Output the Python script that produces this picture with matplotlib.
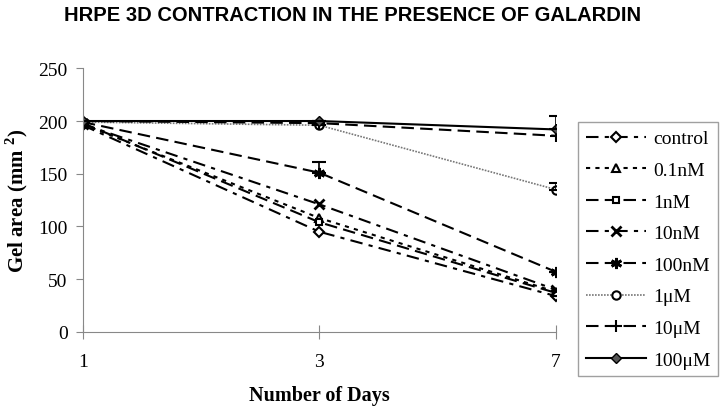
import matplotlib
matplotlib.use('Agg')
import matplotlib.pyplot as plt

days = ['1', '3', '7']
labels = ['control', '0.1nM', '1nM', '10nM', '100nM', '1\u03bcM', '10\u03bcM', '100\u03bcM']

control = [196, 95, 34]
nm01 = [197, 108, 38]
nm1 = [198, 104, 37]
nm10 = [197, 121, 40]
nm100 = [199, 151, 57]
um1 = [199, 196, 135]
um10 = [200, 198, 186]
um100 = [200, 200, 192]
series = [control, nm01, nm1, nm10, nm100, um1, um10, um100]

# upward error bars only
err_up = {'100nM': [0, 10, 0], '1\u03bcM': [0, 0, 6], '100\u03bcM': [0, 0, 13]}

styles = [
    dict(ls=(0, (6, 3, 2, 3)), marker='D', mfc='white', ms=5, mew=1.5, color='black', lw=1.5),
    dict(ls=(0, (2, 2.5)), marker='^', mfc='white', ms=6, mew=1.5, color='black', lw=1.5),
    dict(ls=(0, (6, 3)), marker='s', mfc='white', ms=5, mew=1.5, color='black', lw=1.5),
    dict(ls=(0, (6, 3, 2, 3)), marker='x', ms=7, mew=2, color='black', lw=1.5),
    dict(ls=(0, (6, 3)), marker=(6, 2, 0), ms=8, mew=2, color='black', lw=1.5),
    dict(ls=(0, (1, 0.8)), marker='o', mfc='white', mec='black', ms=6, mew=1.5, color='#777777', lw=1.2),
    dict(ls=(0, (6, 3)), marker='+', ms=9, mew=1.5, color='black', lw=1.5),
    dict(ls='-', marker='D', ms=5, mfc='#555555', color='black', lw=1.5),
]

fig = plt.figure(figsize=(7.2, 4.1), dpi=100)
ax = fig.add_axes([0.115, 0.188, 0.657, 0.643])
x = list(range(len(days)))

for name, vals, st in zip(labels, series, styles):
    ax.plot(x, vals, label=name, **st)
    if name in err_up:
        ax.errorbar(x, vals, yerr=[[0, 0, 0], err_up[name]], fmt='none',
                    ecolor='black', elinewidth=1.2, capsize=5, capthick=1.5)

ax.set_xlim(0, 2)
ax.set_ylim(0, 250)
ax.set_yticks(range(0, 251, 50))
ax.set_xticks(x)
ax.set_xticklabels(days)
for s in ['top', 'right']:
    ax.spines[s].set_visible(False)
for s in ['left', 'bottom']:
    ax.spines[s].set_color('#888888')
ax.tick_params(axis='y', direction='out', length=5, color='#888888', labelsize=14, pad=6)
ax.tick_params(axis='x', direction='inout', length=10, color='#888888', labelsize=14, pad=10)
for t in ax.get_xticklabels() + ax.get_yticklabels():
    t.set_family('Liberation Serif')

ax.set_xlabel('Number of Days', family='Liberation Serif', fontweight='bold', fontsize=14.5, labelpad=11)
ax.set_ylabel('Gel area (mm $^\\mathregular{2}$)', family='Liberation Serif', fontweight='bold',
              fontsize=15, labelpad=6)

fig.text(0.49, 0.985, 'HRPE 3D CONTRACTION IN THE PRESENCE OF GALARDIN', ha='center', va='top',
         family='Liberation Sans', fontweight='bold', fontsize=14.5)

leg = fig.legend(loc='upper left', bbox_to_anchor=(0.803, 0.70), handlelength=3.1,
                 prop={'family': 'Liberation Serif', 'size': 14}, frameon=True,
                 fancybox=False, edgecolor='#888888', labelspacing=0.72, borderpad=0.4,
                 handletextpad=0.35, borderaxespad=0)
leg.get_frame().set_linewidth(1)

fig.savefig('out.png', dpi=100)
